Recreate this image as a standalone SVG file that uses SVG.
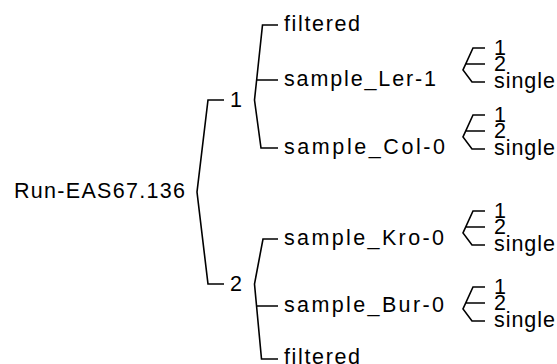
<svg xmlns="http://www.w3.org/2000/svg" width="557" height="364" viewBox="0 0 557 364">
<style>
  text { font-family: "Liberation Sans", Arial, sans-serif; font-size: 21.5px; fill: #000; }
  .edge { fill: none; stroke: #000; stroke-width: 1.6; stroke-linejoin: miter; }
</style>
<rect width="557" height="364" fill="#fff"/>
<g id="connectors">
  <path class="edge" d="M224,100 H208 L197,192 L208,284 H224"/>
  <path class="edge" d="M278,25 H262.5 L254.5,100 L261,148 H278 M256.6,80 H278"/>
  <path class="edge" d="M278,239 H263 L254.5,284 L261.5,359 H278 M256.6,306 H278"/>
  <path class="edge" d="M485,48 H473 L463,70 L472,82 H485 M465.7,64 H485"/>
  <path class="edge" d="M485,115 H473 L463,137 L472,149 H485 M465.7,131 H485"/>
  <path class="edge" d="M485,211 H473 L463,233 L472,245 H485 M465.7,227 H485"/>
  <path class="edge" d="M485,287 H473 L463,309 L472,321 H485 M465.7,303 H485"/>
</g>
<g id="root"><text x="14" y="198" textLength="171" lengthAdjust="spacing">Run-EAS67.136</text></g>
<g id="n1"><text x="230" y="107">1</text></g>
<g id="n2"><text x="230" y="291">2</text></g>
<g id="n1-filtered"><text x="284" y="31" textLength="76" lengthAdjust="spacing">filtered</text></g>
<g id="n1-ler"><text x="284" y="86" textLength="152" lengthAdjust="spacing">sample_Ler-1</text></g>
<g id="n1-col"><text x="284" y="154" textLength="161" lengthAdjust="spacing">sample_Col-0</text></g>
<g id="n2-kro"><text x="284" y="245" textLength="160" lengthAdjust="spacing">sample_Kro-0</text></g>
<g id="n2-bur"><text x="284" y="312" textLength="160" lengthAdjust="spacing">sample_Bur-0</text></g>
<g id="n2-filtered"><text x="284" y="364" textLength="76" lengthAdjust="spacing">filtered</text></g>
<g id="ler-1"><text x="494" y="55">1</text></g>
<g id="ler-2"><text x="494" y="71">2</text></g>
<g id="ler-single"><text x="494" y="88" textLength="61" lengthAdjust="spacing">single</text></g>
<g id="col-1"><text x="494" y="122">1</text></g>
<g id="col-2"><text x="494" y="138">2</text></g>
<g id="col-single"><text x="494" y="155" textLength="61" lengthAdjust="spacing">single</text></g>
<g id="kro-1"><text x="494" y="218">1</text></g>
<g id="kro-2"><text x="494" y="234">2</text></g>
<g id="kro-single"><text x="494" y="251" textLength="61" lengthAdjust="spacing">single</text></g>
<g id="bur-1"><text x="494" y="294">1</text></g>
<g id="bur-2"><text x="494" y="310">2</text></g>
<g id="bur-single"><text x="494" y="327" textLength="61" lengthAdjust="spacing">single</text></g>
</svg>
